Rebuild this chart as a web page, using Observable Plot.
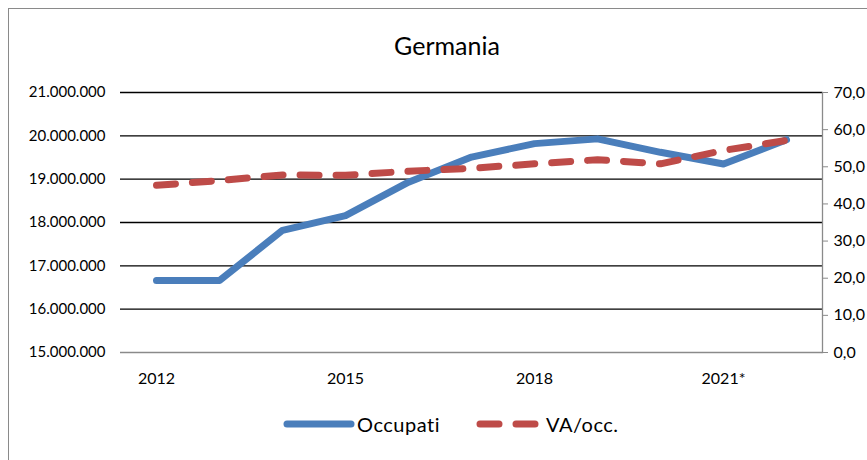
<!DOCTYPE html>
<html>
<head>
<meta charset="utf-8">
<script src="https://cdn.jsdelivr.net/npm/d3@7"></script>
<script src="https://cdn.jsdelivr.net/npm/@observablehq/plot@0.6"></script>
<style>
  html, body { margin: 0; padding: 0; background: #fff; overflow: hidden; }
  #wrap { position: relative; width: 867px; height: 460px; font-family: Lato, "Liberation Sans", sans-serif; overflow: hidden; }
  #border { position: absolute; left: 8px; top: 8px; width: 900px; height: 500px; border-left: 1.5px solid #8a8a8a; border-top: 1.5px solid #8a8a8a; box-sizing: border-box; }
  #title { position: absolute; left: 0; width: 894px; top: 30px; text-align: center; font-size: 25px; color: #000; }
  #chart { position: absolute; left: 0; top: 0; }
  #legend { position: absolute; top: 412px; left: 283px; display: flex; align-items: center; font-size: 20px; letter-spacing: 0.5px; color: #000; }
  #legend svg { display: block; }
</style>
</head>
<body>
<div id="wrap">
  <div id="border"></div>
  <div id="title">Germania</div>
  <div id="chart"></div>
  <div id="legend"></div>
</div>
<script>
// ---- data ----
const years = [2012, 2013, 2014, 2015, 2016, 2017, 2018, 2019, 2020, 2021, 2022];
const occupati = [16660000, 16660000, 17820000, 18160000, 18930000, 19510000, 19820000, 19930000, 19620000, 19350000, 19910000];
const vaOcc = [45.0, 46.3, 47.8, 47.7, 48.8, 49.6, 50.8, 51.9, 50.8, 54.4, 57.1];
const seriesNames = ["Occupati", "VA/occ."];
const xTickYears = [2012, 2015, 2018, 2021];
const xTickLabels = ["2012", "2015", "2018", "2021*"];
const leftTicks = [15000000, 16000000, 17000000, 18000000, 19000000, 20000000, 21000000];
const rightTicks = [0, 10, 20, 30, 40, 50, 60, 70];
const colors = ["#4a7ebb", "#be4b48"];

// map right-axis values onto left scale
const L0 = 15000000, L1 = 21000000, R0 = 0, R1 = 70;
const toLeft = v => L0 + (v - R0) / (R1 - R0) * (L1 - L0);
const toRight = v => R0 + (v - L0) / (L1 - L0) * (R1 - R0);

const data = years.map((y, i) => ({year: y, occ: occupati[i], va: toLeft(vaOcc[i])}));

const fmtLeft = d => d3.format(",")(d).replace(/,/g, ".");
const fmtRight = d => d3.format(".1f")(Math.round(toRight(d) * 10) / 10).replace(".", ",");

const chart = Plot.plot({
  width: 867,
  height: 460,
  marginLeft: 120,
  marginRight: 45,
  marginTop: 92,
  marginBottom: 108,
  style: {fontFamily: "Lato, 'Liberation Sans', sans-serif", fontSize: "16px", color: "#000", background: "transparent", overflow: "visible"},
  x: {type: "point", domain: years, padding: 0.5, label: null},
  y: {domain: [L0, L1], label: null},
  marks: [
    Plot.ruleY(leftTicks.slice(1), {stroke: "#000", strokeWidth: 1.3, strokeOpacity: 1}),
    Plot.ruleY([L0], {stroke: "#8a8a8a", strokeWidth: 1.3}),
    Plot.frame({anchor: "right", stroke: "#8a8a8a", strokeWidth: 1.3}),
    Plot.axisY({ticks: leftTicks, tickSize: 0, tickPadding: 15, tickFormat: fmtLeft, fontSize: 15, label: null}),
    Plot.axisY({anchor: "right", ticks: rightTicks.map(toLeft), tickSize: 5, tickPadding: 6, tickFormat: fmtRight, stroke: "#8a8a8a", fontSize: 16, label: null}),
    Plot.axisX({ticks: xTickYears, tickSize: 0, tickPadding: 20, tickFormat: d => xTickLabels[xTickYears.indexOf(d)], fontSize: 16, label: null}),
    Plot.line(data, {x: "year", y: "occ", stroke: colors[0], strokeWidth: 7, strokeLinecap: "round", strokeLinejoin: "round"}),
    Plot.line(data, {x: "year", y: "va", stroke: colors[1], strokeWidth: 7, strokeLinecap: "round", strokeLinejoin: "round", strokeDasharray: "19,17"})
  ]
});
document.getElementById("chart").appendChild(chart);

// legend
const legend = d3.select("#legend");
seriesNames.forEach((name, i) => {
  const sw = legend.append("svg").attr("width", 76).attr("height", 12)
    .style("margin-left", i === 0 ? "0px" : "36px");
  sw.append("line").attr("x1", 4).attr("x2", i === 0 ? 68 : 72).attr("y1", 6).attr("y2", 6)
    .attr("stroke", colors[i]).attr("stroke-width", 7).attr("stroke-linecap", "round")
    .attr("stroke-dasharray", i === 0 ? null : "19,17");
  legend.append("span").text(name).style("margin-left", i === 0 ? "-2px" : "-6px");
});
</script>
</body>
</html>
